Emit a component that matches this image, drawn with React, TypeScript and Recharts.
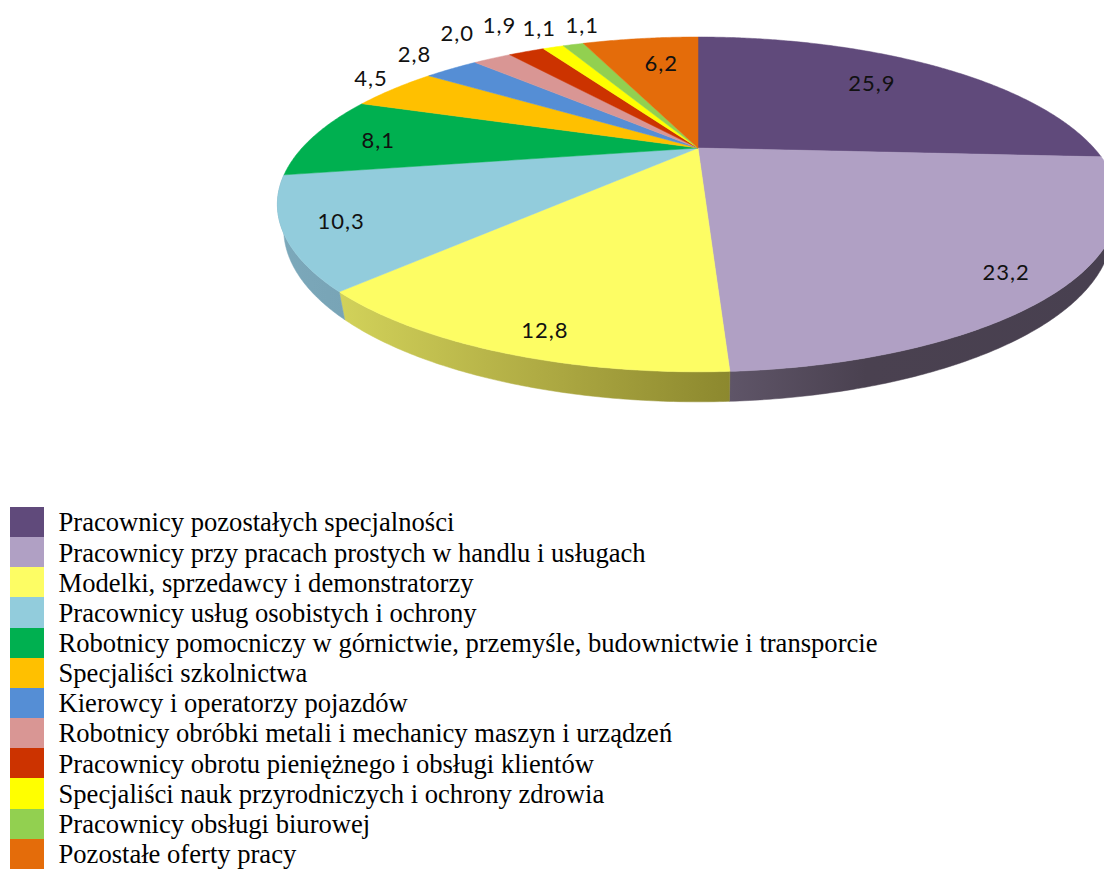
import React from "react";
import { PieChart, Pie, Legend } from "recharts";

const categories = [
  "Pracownicy pozostałych specjalności",
  "Pracownicy przy pracach prostych w handlu i usługach",
  "Modelki, sprzedawcy i demonstratorzy",
  "Pracownicy usług osobistych i ochrony",
  "Robotnicy pomocniczy w górnictwie, przemyśle, budownictwie i transporcie",
  "Specjaliści szkolnictwa",
  "Kierowcy i operatorzy pojazdów",
  "Robotnicy obróbki metali i mechanicy maszyn i urządzeń",
  "Pracownicy obrotu pieniężnego i obsługi klientów",
  "Specjaliści nauk przyrodniczych i ochrony zdrowia",
  "Pracownicy obsługi biurowej",
  "Pozostałe oferty pracy",
];
const values = [25.9, 23.2, 12.8, 10.3, 8.1, 4.5, 2.8, 2.0, 1.9, 1.1, 1.1, 6.2];
const colors = ["#604A7B", "#B0A0C4", "#FDFD64", "#92CCDC", "#00B050", "#FFC000", "#558ED5", "#D99694", "#CC3300", "#FFFF00", "#92D050", "#E46C0A"];

// label shift from the slice's rim point, in pixels
const labelShiftX = [-60, -59, 45, 58, 64, -23, -37, -35, -27, -14, 9, 21];
const labelShiftY = [17, -15, -23, -11, 4, -11, -15, -26, -27, -20, -20, 24];

// side wall colours: [left, middle, right]
const wallStops: Record<string, string[]> = {
  "#B0A0C4": ["#5F5568", "#4A4150", "#484050"],
  "#FDFD64": ["#D2D25A", "#B0AC44", "#8C882E"],
  "#92CCDC": ["#7CA9BB", "#7AA6B8", "#78A4B6"],
};

const data = categories.map((name, i) => ({ name, value: values[i], fill: colors[i] }));

const TILT = 0.337; // perspective strength
const SQUASH = 148.4 / 396; // vertical flattening
const WALL_SHRINK = 0.985;

// perspective projection of a point on the rim of the flat disc (theta clockwise from top)
function project(R: number, thetaDeg: number) {
  const t = (thetaDeg * Math.PI) / 180;
  const s = Math.sin(t);
  const c = -Math.cos(t);
  const den = 1 - TILT * c;
  return { x: (R * s) / den, y: (R * SQUASH * c) / den, c };
}

function arcPoints(R: number, a0: number, a1: number) {
  const n = Math.max(2, Math.ceil((a1 - a0) * 2));
  const out: { x: number; y: number; c: number }[] = [];
  for (let i = 0; i <= n; i++) out.push(project(R, a0 + ((a1 - a0) * i) / n));
  return out;
}

const PerspectiveSlice = (props: any) => {
  const { cx, cy, outerRadius, startAngle, endAngle, fill } = props;
  const a0 = 90 - startAngle;
  const a1 = 90 - endAngle;
  const rim = arcPoints(outerRadius, a0, a1);
  const face =
    `M${cx},${cy} ` + rim.map((p) => `L${(cx + p.x).toFixed(2)},${(cy + p.y).toFixed(2)}`).join(" ") + " Z";
  const stops = wallStops[fill];
  let wall: React.ReactNode = null;
  if (stops) {
    const w0 = Math.max(a0, 100);
    const w1 = Math.min(a1, 262);
    const top = arcPoints(outerRadius, w0, w1);
    const d =
      top.map((p, i) => `${i ? "L" : "M"}${(cx + p.x).toFixed(2)},${(cy + p.y).toFixed(2)}`).join(" ") +
      " " +
      [...top]
        .reverse()
        .map((p) => `L${(cx + p.x * WALL_SHRINK).toFixed(2)},${(cy + p.y + 22 + 8 * p.c).toFixed(2)}`)
        .join(" ") +
      " Z";
    const id = `wall-${fill.slice(1)}`;
    wall = (
      <g>
        <defs>
          <linearGradient id={id} x1="0" y1="0" x2="1" y2="0">
            <stop offset="0%" stopColor={stops[0]} />
            <stop offset={fill === "#B0A0C4" ? "35%" : "50%"} stopColor={stops[1]} />
            <stop offset="100%" stopColor={stops[2]} />
          </linearGradient>
        </defs>
        <path d={d} fill={`url(#${id})`} stroke={`url(#${id})`} strokeWidth={0.5} />
      </g>
    );
  }
  return (
    <g>
      {wall}
      <path d={face} fill={fill} stroke={fill} strokeWidth={0.5} />
    </g>
  );
};

const renderLabel = (props: any) => {
  const { cx, cy, outerRadius, midAngle, index, value } = props;
  const p = project(outerRadius, 90 - midAngle);
  return (
    <text
      key={index}
      x={cx + p.x + labelShiftX[index]}
      y={cy + p.y + labelShiftY[index]}
      textAnchor="middle"
      dominantBaseline="central"
      fontFamily="Lato, sans-serif"
      fontSize={22}
      letterSpacing={1}
      fill="#111"
    >
      {String(value.toFixed(1)).replace(".", ",")}
    </text>
  );
};

const LegendList = (props: any) => (
  <div>
    {(props.payload || []).map((item: any, i: number) => (
      <div key={i} style={{ display: "flex", alignItems: "center", height: 30.17 }}>
        <span style={{ display: "block", width: 34, height: 30.17, background: item.color, flex: "none" }} />
        <span
          style={{
            marginLeft: 14.5,
            fontFamily: '"Liberation Serif", serif',
            fontSize: 26.6,
            lineHeight: "30px",
            color: "#000",
            whiteSpace: "nowrap",
            position: "relative",
            top: 0.3,
          }}
        >
          {item.value}
        </span>
      </div>
    ))}
  </div>
);

export default function App() {
  return (
    <div style={{ position: "absolute", left: 0, top: 0, width: 1104, height: 869, overflow: "hidden", background: "#fff" }}>
      <PieChart width={1104} height={869} margin={{ top: 0, right: 0, bottom: 0, left: 0 }}>
        <Pie
          data={data}
          dataKey="value"
          nameKey="name"
          cx={698}
          cy={148}
          innerRadius={0}
          outerRadius={396}
          startAngle={90}
          endAngle={-270}
          stroke="none"
          isAnimationActive={false}
          labelLine={false}
          label={renderLabel}
          shape={PerspectiveSlice}
          activeShape={PerspectiveSlice}
          inactiveShape={PerspectiveSlice}
        />
        <Legend
          content={LegendList}
          itemSorter={null}
          layout="vertical"
          wrapperStyle={{ position: "absolute", left: 10, top: 507, width: 1000, height: 362, bottom: "auto", right: "auto" }}
        />
      </PieChart>
    </div>
  );
}
